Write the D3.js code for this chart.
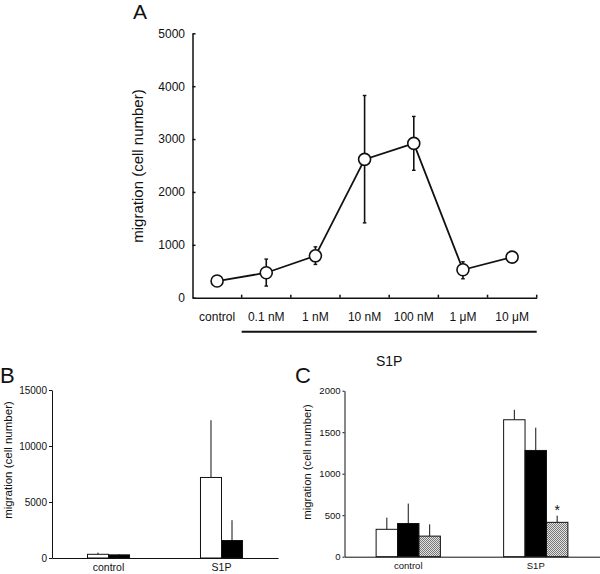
<!DOCTYPE html>
<html>
<head>
<meta charset="utf-8">
<script src="https://cdn.jsdelivr.net/npm/d3@7/dist/d3.min.js"></script>
<style>
  html, body { margin: 0; padding: 0; background: #fff; }
  svg text { font-family: "Liberation Sans", Arial, Helvetica, sans-serif; fill: #111; }
</style>
</head>
<body>
<svg id="chart" width="600" height="574"></svg>
<script>
// ---------- Panel A data ----------
const aCats = ["control", "0.1 nM", "1 nM", "10 nM", "100 nM", "1 μM", "10 μM"];
const aValues = [315, 472, 792, 2616, 2918, 528, 767];
const aErrHigh = [340, 730, 962, 3824, 3428, 679, 790];
const aErrLow = [290, 220, 629, 1415, 2409, 358, 745];
const aTicks = [0, 1000, 2000, 3000, 4000, 5000];

// ---------- Panel B data ----------
const bGroups = ["control", "S1P"];
const bWhite = [330, 7190];
const bWhiteErr = [480, 12300];
const bBlack = [280, 1560];
const bBlackErr = [350, 3380];
const bTicks = [0, 5000, 10000, 15000];

// ---------- Panel C data ----------
const cGroups = ["control", "S1P"];
const cWhite = [330, 1650];
const cWhiteErr = [470, 1770];
const cBlack = [400, 1280];
const cBlackErr = [640, 1555];
const cHatch = [248, 414];
const cHatchErr = [390, 494];
const cTicks = [0, 500, 1000, 1500, 2000];

const fmt = d3.format("d");
const svg = d3.select("#chart");
const defs = svg.append("defs");
const pat = defs.append("pattern").attr("id", "hatch")
  .attr("patternUnits", "userSpaceOnUse").attr("width", 2).attr("height", 2);
pat.append("rect").attr("width", 2).attr("height", 2).attr("fill", "#e2e2e2");
pat.append("rect").attr("width", 1).attr("height", 1).attr("fill", "#777");
pat.append("rect").attr("x", 1).attr("y", 1).attr("width", 1).attr("height", 1).attr("fill", "#777");

function styleAxis(g, w) {
  g.selectAll("path.domain").attr("stroke", "#111").attr("stroke-width", w);
  g.selectAll(".tick line").attr("stroke", "#111").attr("stroke-width", w);
  g.selectAll("text").attr("fill", "#111");
}

// ================= Panel A =================
{
  const xA = d3.scaleBand().domain(aCats).range([192.5, 536.7]).padding(0);
  const yA = d3.scaleLinear().domain([0, 5000]).range([297.7, 33.3]);
  const g = svg.append("g");

  const ya = g.append("g").attr("transform", `translate(${xA.range()[0]},0)`)
    .call(d3.axisLeft(yA).tickValues(aTicks).tickFormat(fmt).tickSize(-3).tickSizeOuter(0).tickPadding(7.5));
  ya.selectAll("text").attr("font-size", 12);
  styleAxis(ya, 1.5);

  const xa = g.append("g").attr("transform", `translate(0,${yA(0)})`)
    .call(d3.axisBottom(xA).tickSize(0).tickSizeOuter(0).tickPadding(15));
  xa.selectAll("text").attr("font-size", 12);
  styleAxis(xa, 1.5);
  // boundary ticks (inward)
  const bounds = aCats.slice(1).map(c => xA(c)).concat([xA.range()[1]]);
  g.selectAll(".btick").data(bounds).join("line")
    .attr("x1", d => d).attr("x2", d => d)
    .attr("y1", yA(0)).attr("y2", yA(0) - 3)
    .attr("stroke", "#111").attr("stroke-width", 1.5);

  // underline & S1P label
  g.append("line")
    .attr("x1", xA(aCats[1])).attr("x2", xA.range()[1])
    .attr("y1", 331.7).attr("y2", 331.7)
    .attr("stroke", "#111").attr("stroke-width", 2);
  g.append("text").attr("x", (xA(aCats[1]) + xA.range()[1]) / 2).attr("y", 366)
    .attr("text-anchor", "middle").attr("font-size", 14).text("S1P");

  const cx = d => xA(d) + xA.bandwidth() / 2;
  // error bars
  aCats.forEach((c, i) => {
    g.append("line").attr("x1", cx(c)).attr("x2", cx(c))
      .attr("y1", yA(aErrLow[i])).attr("y2", yA(aErrHigh[i]))
      .attr("stroke", "#111").attr("stroke-width", 1.6);
    [aErrLow[i], aErrHigh[i]].forEach(v => {
      g.append("line").attr("x1", cx(c) - 1.8).attr("x2", cx(c) + 1.8)
        .attr("y1", yA(v)).attr("y2", yA(v))
        .attr("stroke", "#111").attr("stroke-width", 1.4);
    });
  });
  // line
  const line = d3.line().x((d, i) => cx(aCats[i])).y(d => yA(d));
  g.append("path").datum(aValues).attr("d", line)
    .attr("fill", "none").attr("stroke", "#111").attr("stroke-width", 1.8);
  g.selectAll(".pt").data(aValues).join("circle")
    .attr("cx", (d, i) => cx(aCats[i])).attr("cy", d => yA(d)).attr("r", 6)
    .attr("fill", "#fff").attr("stroke", "#111").attr("stroke-width", 1.6);

  g.append("text").attr("transform", "rotate(-90,138,166)")
    .attr("x", 138).attr("y", 166).attr("dy", "0.35em")
    .attr("text-anchor", "middle").attr("font-size", 15).text("migration (cell number)");

  svg.append("text").attr("x", 133).attr("y", 19).attr("font-size", 21).text("A");
}

// ================= Panel B =================
{
  const xB = d3.scaleBand().domain(bGroups).range([52, 278]).paddingInner(0.628).paddingOuter(0.314);
  const sB = d3.scaleBand().domain(["white", "black"]).range([0, xB.bandwidth()]).padding(0);
  const yB = d3.scaleLinear().domain([0, 15000]).range([558, 390]);
  const g = svg.append("g");

  const series = [
    { key: "white", vals: bWhite, errs: bWhiteErr, fill: "#fff" },
    { key: "black", vals: bBlack, errs: bBlackErr, fill: "#000" }
  ];
  series.forEach(s => {
    bGroups.forEach((grp, i) => {
      const x0 = xB(grp) + sB(s.key);
      g.append("line").attr("x1", x0 + sB.bandwidth() / 2).attr("x2", x0 + sB.bandwidth() / 2)
        .attr("y1", yB(s.vals[i])).attr("y2", yB(s.errs[i]))
        .attr("stroke", "#111").attr("stroke-width", 1);
      g.append("rect").attr("x", x0).attr("y", yB(s.vals[i]))
        .attr("width", sB.bandwidth()).attr("height", yB(0) - yB(s.vals[i]))
        .attr("fill", s.fill).attr("stroke", "#111").attr("stroke-width", 1);
    });
  });

  const yb = g.append("g").attr("transform", `translate(52,0)`)
    .call(d3.axisLeft(yB).tickValues(bTicks).tickFormat(fmt).tickSize(3).tickSizeOuter(0).tickPadding(2));
  yb.selectAll("text").attr("font-size", 10);
  styleAxis(yb, 1);
  const xb = g.append("g").attr("transform", `translate(0,${yB(0)})`)
    .call(d3.axisBottom(xB).tickSize(0).tickSizeOuter(0).tickPadding(5.5));
  xb.selectAll("text").attr("font-size", 10.5);
  styleAxis(xb, 1);

  g.append("text").attr("transform", "rotate(-90,7.5,460)")
    .attr("x", 7.5).attr("y", 460).attr("dy", "0.35em")
    .attr("text-anchor", "middle").attr("font-size", 11.5).text("migration (cell number)");
  svg.append("text").attr("x", 0).attr("y", 383).attr("font-size", 22).text("B");
}

// ================= Panel C =================
{
  const xC = d3.scaleBand().domain(cGroups).range([344.5, 599.5]).paddingInner(0.496).paddingOuter(0.248);
  const sC = d3.scaleBand().domain(["white", "black", "hatch"]).range([0, xC.bandwidth()]).padding(0);
  const yC = d3.scaleLinear().domain([0, 2000]).range([556.7, 390.7]);
  const g = svg.append("g");

  const series = [
    { key: "white", vals: cWhite, errs: cWhiteErr, fill: "#fff" },
    { key: "black", vals: cBlack, errs: cBlackErr, fill: "#000" },
    { key: "hatch", vals: cHatch, errs: cHatchErr, fill: "url(#hatch)" }
  ];
  series.forEach(s => {
    cGroups.forEach((grp, i) => {
      const x0 = xC(grp) + sC(s.key);
      g.append("line").attr("x1", x0 + sC.bandwidth() / 2).attr("x2", x0 + sC.bandwidth() / 2)
        .attr("y1", yC(s.vals[i])).attr("y2", yC(s.errs[i]))
        .attr("stroke", "#111").attr("stroke-width", 1);
      g.append("rect").attr("x", x0).attr("y", yC(s.vals[i]))
        .attr("width", sC.bandwidth()).attr("height", yC(0) - yC(s.vals[i]))
        .attr("fill", s.fill).attr("stroke", "#111").attr("stroke-width", 1);
    });
  });
  // significance star above S1P hatched bar
  g.append("text")
    .attr("x", xC("S1P") + sC("hatch") + sC.bandwidth() / 2)
    .attr("y", yC(cHatchErr[1]) - 0.5)
    .attr("text-anchor", "middle").attr("font-size", 14).text("*");

  const yc = g.append("g").attr("transform", `translate(344.5,0)`)
    .call(d3.axisLeft(yC).tickValues(cTicks).tickFormat(fmt).tickSize(2).tickSizeOuter(0).tickPadding(2));
  yc.selectAll("text").attr("font-size", 9.5);
  styleAxis(yc, 1);
  const xc = g.append("g").attr("transform", `translate(0,${yC(0)})`)
    .call(d3.axisBottom(xC).tickSize(0).tickSizeOuter(0).tickPadding(6));
  xc.selectAll("text").attr("font-size", 9.5);
  styleAxis(xc, 1);

  g.append("text").attr("transform", "rotate(-90,307.5,462)")
    .attr("x", 307.5).attr("y", 462).attr("dy", "0.35em")
    .attr("text-anchor", "middle").attr("font-size", 11.3).text("migration (cell number)");
  svg.append("text").attr("x", 295).attr("y", 383).attr("font-size", 22).text("C");
}
</script>
</body>
</html>
